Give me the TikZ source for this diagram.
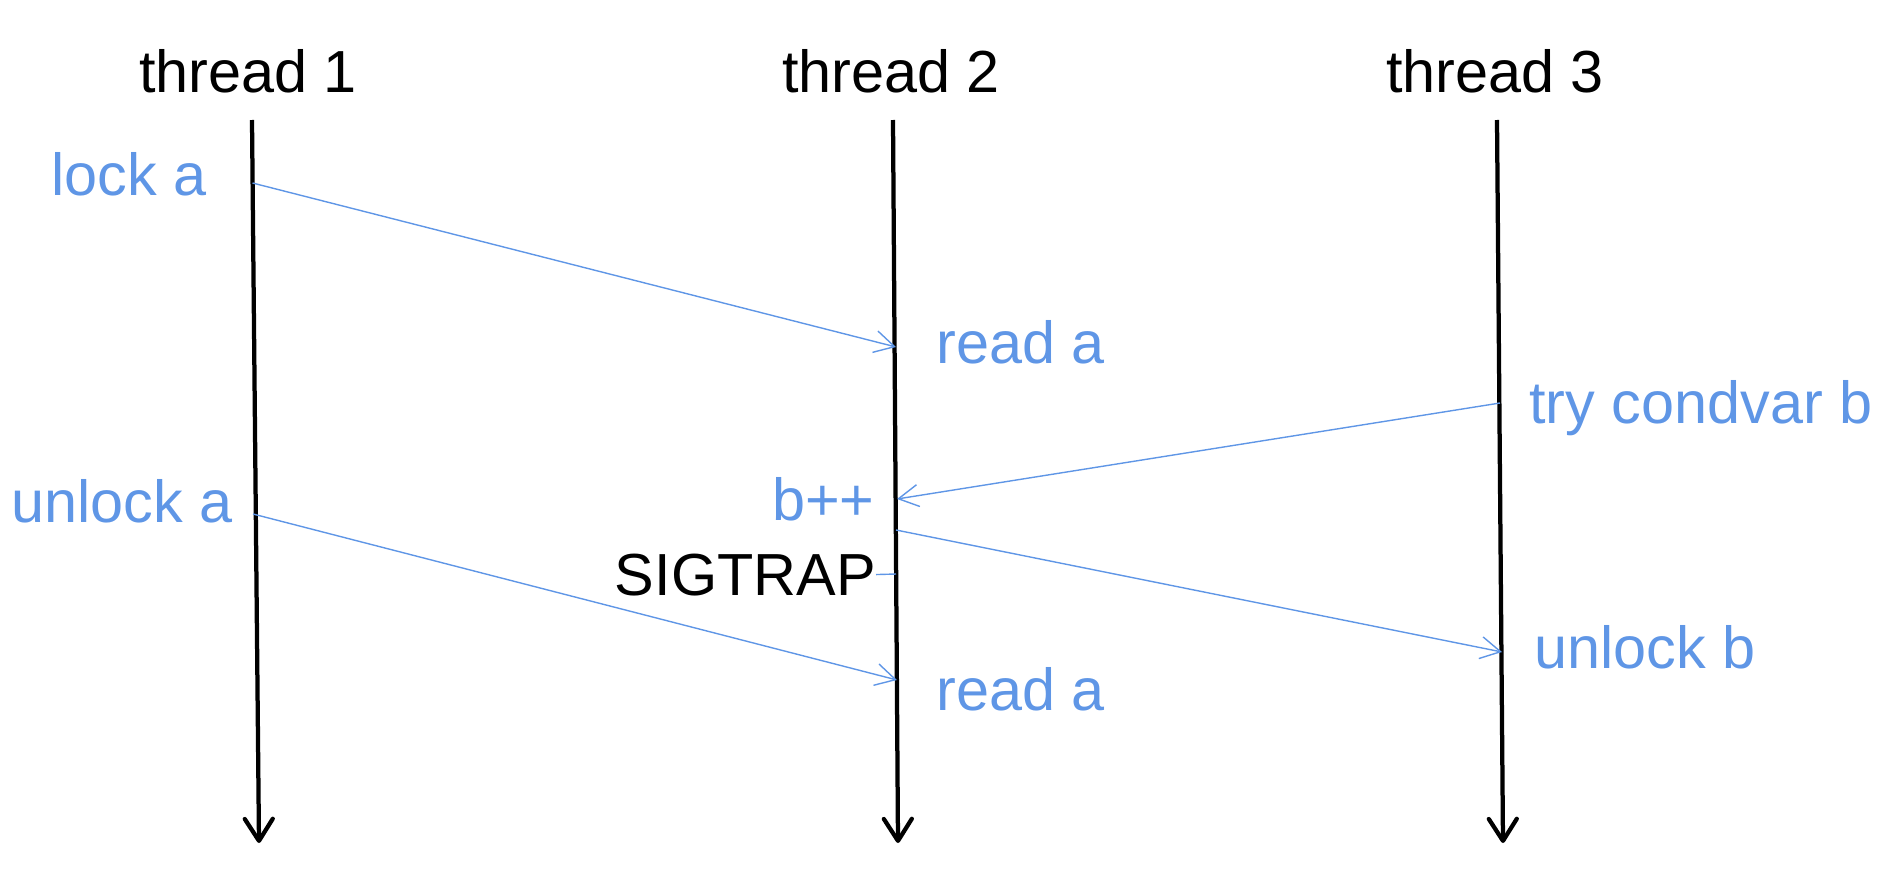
\documentclass[tikz,border=0pt]{standalone}
\usepackage{fontspec}
\setmainfont{Liberation Sans}
\usetikzlibrary{arrows.meta}
\definecolor{evblue}{RGB}{95,150,230}

\begin{document}
\begin{tikzpicture}[x=0.02cm,y=-0.02cm,
    every node/.style={inner sep=0pt,font=\fontsize{33.8}{40}\selectfont},
    thread/.style={line width=0.085cm,-{Straight Barb[length=0.44cm,width=0.56cm,round]}},
    msg/.style={evblue,line width=0.028cm,-{Straight Barb[length=0.4cm,width=0.44cm]}},
    event/.style={text=evblue,anchor=base west}]
  \useasboundingbox (0,0) rectangle (1896,889);

  % thread heads and ends
  \node [anchor=base] (th1) at (248,92) {thread 1};
  \node [anchor=base] (th2) at (891,92) {thread 2};
  \node [anchor=base] (th3) at (1495,92) {thread 3};
  \coordinate (t1top) at (252,120);
  \coordinate (t1end) at (259,843);
  \coordinate (t2top) at (893,120);
  \coordinate (t2end) at (898,843);
  \coordinate (t3top) at (1497,120);
  \coordinate (t3end) at (1503,843);

  \draw [thread] (t1top) -- (t1end);
  \draw [thread] (t2top) -- (t2end);
  \draw [thread] (t3top) -- (t3end);

  % points on the threads
  \coordinate (lockpt) at (252.5,183);
  \coordinate (unlockpt) at (253,514);
  \coordinate (readpt1) at (896,347);
  \coordinate (incpt) at (897,499);
  \coordinate (incout) at (896,530);
  \coordinate (trappt) at (896,574);
  \coordinate (readpt2) at (897,680);
  \coordinate (trypt) at (1500,403);
  \coordinate (unlockbpt) at (1502,652);

  % events
  \node [event] (locka) at (51,195) {lock a};
  \node [event] (unlocka) at (11,522) {unlock a};
  \node [event] (reada1) at (936,363) {read a};
  \node [event] (reada2) at (936,710) {read a};
  \node [event, anchor=base east] (binc) at (875,520) {b++};
  \node [anchor=base east] (trap) at (876,595) {SIGTRAP};
  \node [event] (tryb) at (1529,423) {try condvar b};
  \node [event] (unlockb) at (1534,668) {unlock b};

  \draw [msg] (lockpt) -- (readpt1);
  \draw [msg] (unlockpt) -- (readpt2);
  \draw [msg] (trypt) -- (incpt);
  \draw [msg] (incout) -- (unlockbpt);
  \draw [evblue, line width=0.028cm] (trap.east) -- (trappt);
\end{tikzpicture}
\end{document}
